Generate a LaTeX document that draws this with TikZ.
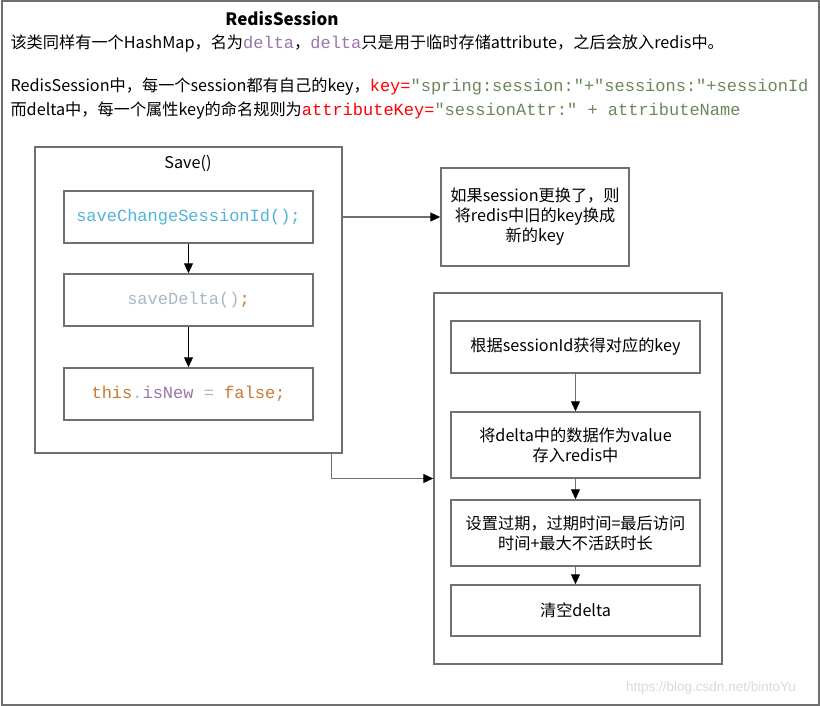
\documentclass[tikz,border=0pt]{standalone}
\usepackage{fontspec}
\setmainfont{Noto Sans CJK SC}
\setmonofont{Liberation Mono}
\newfontfamily\markfont{Liberation Sans}
\newcommand{\code}{\ttfamily\fontsize{17}{20}\selectfont}
\usetikzlibrary{arrows.meta}
\definecolor{deltac}{HTML}{9876AA}
\definecolor{strc}{HTML}{6A8759}
\definecolor{callc}{HTML}{4FB3DC}
\definecolor{plainc}{HTML}{A9B7C6}
\definecolor{kwc}{HTML}{CC7832}
\definecolor{framec}{HTML}{707070}

\begin{document}
\begin{tikzpicture}[x=1pt,y=-1pt,
  every node/.style={font=\fontsize{16.2}{20}\selectfont},
  frame/.style={draw=framec,line width=1.5pt},
  box/.style={frame,minimum width=249pt,inner sep=2pt,align=center},
  arr/.style={-{Triangle[length=10pt,width=9pt,color=black]},line width=1.2pt}]
\useasboundingbox (0,0) rectangle (820,706);
\draw[framec,line width=2pt] (1.5,1.5) rectangle (818.5,704.5);

% header text
\node [font=\bfseries\fontsize{17}{20}\selectfont] (title) at(282,19){RedisSession};
\node [anchor=west] (line1) at(7,44){该类同样有一个HashMap，名为\textcolor{deltac}{\code delta}，\textcolor{deltac}{\code delta}只是用于临时存储attribute，之后会放入redis中。};
\node [anchor=west] (line2) at(7,87){RedisSession中，每一个session都有自己的key，{\code\color{red}key=\color{strc}"spring:session:"+"sessions:"+sessionId}};
\node [anchor=west] (line3) at(7,110){而delta中，每一个属性key的命名规则为{\code\color{red}attributeKey=\color{strc}"sessionAttr:" + attributeName}};

% save()
\node [frame,minimum width=307pt,minimum height=306pt] (save) at(188.5,300){};
\node (savet) at(188,163){Save()};
\node [box,minimum height=52pt] (scid) at(188.5,217){\code\color{callc}saveChangeSessionId();};
\node [box,minimum height=52pt] (sdelta) at(188.5,300){\code\color{plainc}saveDelta()\color{kwc};};
\node [box,minimum height=52pt] (snew) at(188.5,394){\code\color{kwc}this\color{plainc}.\color{deltac}isNew \color{plainc}= \color{kwc}false;};
\draw[arr] (scid) -- (sdelta);
\draw[arr] (sdelta) -- (snew);

% key change
\node [frame,minimum width=188pt,minimum height=98pt,align=center] (change) at(535,217){如果session更换了，则\\将redis中旧的key换成\\新的key};
\draw[arr,draw=framec] (save.east |- change.west) -- (change.west);

% saveDelta()
\node [frame,minimum width=288pt,minimum height=371pt] (store) at(578,478.5){};
\node [box,minimum height=52pt] (getkey) at(575.5,347){根据sessionId获得对应的key};
\node [box,minimum height=66pt] (put) at(575.5,445){将delta中的数据作为value\\存入redis中};
\node [box,minimum height=66pt] (expire) at(575.5,533){设置过期，过期时间=最后访问\\时间+最大不活跃时长};
\node [box,minimum height=51pt] (clear) at(575.5,610.5){清空delta};
\draw[arr,draw=framec] (getkey) -- (put);
\draw[arr,draw=framec] (put) -- (expire);
\draw[arr,draw=framec] (expire) -- (clear);
\draw[arr,draw=framec] ([xshift=-11pt]save.south east) |- (store.west);

\node [font=\markfont\fontsize{13.5}{16}\selectfont,text=black!15] (mark) at(711,688){https://blog.csdn.net/bintoYu};
\end{tikzpicture}
\end{document}
